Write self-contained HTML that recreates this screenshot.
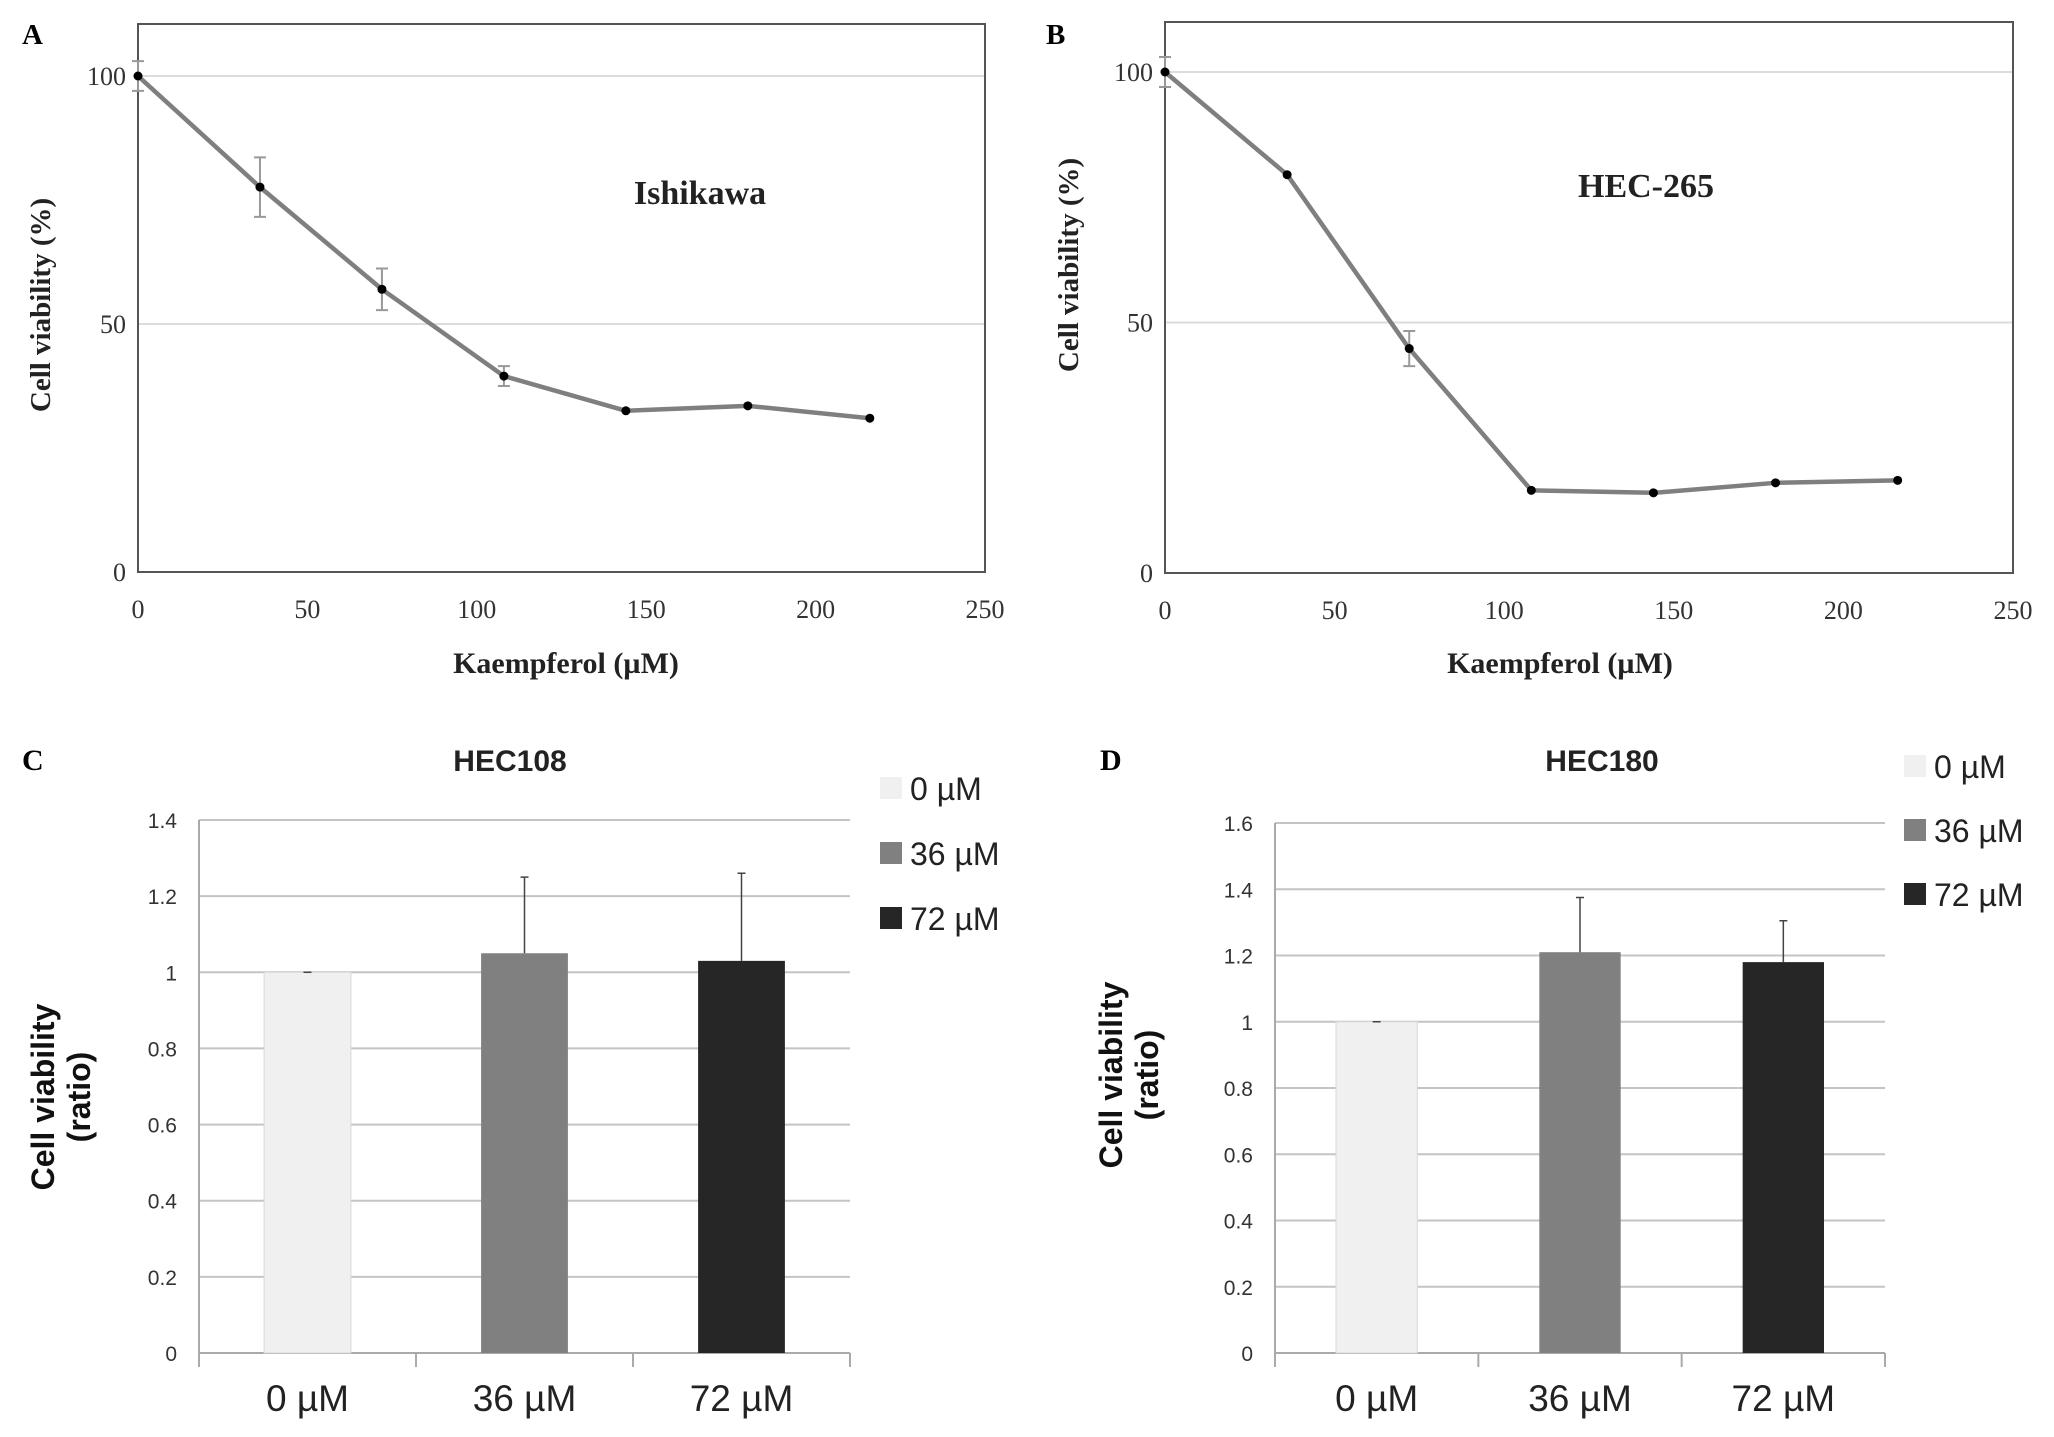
<!DOCTYPE html>
<html><head><meta charset="utf-8"><style>
html,body{margin:0;padding:0;background:#fff;}
svg{display:block;}
</style></head><body>
<svg id="fig" width="2054" height="1437" viewBox="0 0 2054 1437" xmlns="http://www.w3.org/2000/svg"></svg>
<script>
// Panel A data (Ishikawa)
const doseA = [0, 36, 72, 108, 144, 180, 216];
const viabA = [100, 77.6, 57, 39.5, 32.5, 33.5, 31];
const errA = [3, 6, 4.2, 2, 0, 0, 0];
// Panel B data (HEC-265)
const doseB = [0, 36, 72, 108, 144, 180, 216];
const viabB = [100, 79.5, 44.8, 16.5, 16, 18, 18.5];
const errB = [3, 0, 3.5, 0, 0, 0, 0];
const xTicks = [0, 50, 100, 150, 200, 250];
const yTicksLine = [0, 50, 100];
// Panel C data (HEC108)
const catsC = ["0 µM", "36 µM", "72 µM"];
const valC = [1, 1.05, 1.03];
const errC = [0, 0.2, 0.23];
const yTicksC = [0, 0.2, 0.4, 0.6, 0.8, 1, 1.2, 1.4];
// Panel D data (HEC180)
const catsD = ["0 µM", "36 µM", "72 µM"];
const valD = [1, 1.21, 1.18];
const errD = [0, 0.165, 0.125];
const yTicksD = [0, 0.2, 0.4, 0.6, 0.8, 1, 1.2, 1.4, 1.6];
const barColors = ["#f0f0f0", "#808080", "#262626"];
const legendLabels = ["0 µM", "36 µM", "72 µM"];

const svg = document.getElementById('fig');
const NS = 'http://www.w3.org/2000/svg';
function mk(tag, attrs, parent, text) {
  const e = document.createElementNS(NS, tag);
  for (const k in attrs) e.setAttribute(k, attrs[k]);
  if (text !== undefined) e.textContent = text;
  (parent || svg).appendChild(e);
  return e;
}
const SERIF = '"Liberation Serif", serif';
const SANS = '"Liberation Sans", sans-serif';

function linePanel(o) {
  const g = mk('g', {});
  
  
  const xs = v => o.L + (v - 0) / 250 * (o.R - o.L);
  const ys = v => o.y0 - v / 100 * (o.y0 - o.y100);
  yTicksLine.forEach(t => {
    if (t > 0) {
      const gl = mk('line', {x1: o.L, x2: o.R, y1: ys(t), y2: ys(t), stroke: '#dcdcdc', 'stroke-width': 2}, g);
      
      
    }
    const tl = mk('text', {x: o.L - 12, y: ys(t) + 9, 'text-anchor': 'end', 'font-family': SERIF, 'font-size': 26, fill: '#333'}, g, String(t));
    
    
  });
  const box = mk('rect', {x: o.L, y: o.T, width: o.R - o.L, height: o.y0 - o.T, fill: 'none', stroke: '#555', 'stroke-width': 2}, g);
  
  
  xTicks.forEach(t => {
    const tl = mk('text', {x: xs(t), y: o.y0 + 46, 'text-anchor': 'middle', 'font-family': SERIF, 'font-size': 26, fill: '#333'}, g, String(t));
    
    
  });
  const pts = o.x.map((d, i) => xs(d) + ',' + ys(o.y[i])).join(' ');
  const pl = mk('polyline', {points: pts, fill: 'none', stroke: '#7f7f7f', 'stroke-width': 4.5, 'stroke-linejoin': 'round'}, g);
  
  
  o.x.forEach((d, i) => {
    const cx = xs(d), cy = ys(o.y[i]);
    if (o.e[i] > 0) {
      const a = ys(o.y[i] + o.e[i]), b = ys(o.y[i] - o.e[i]);
      const eb = mk('path', {d: `M${cx},${a}V${b}M${cx-6},${a}H${cx+6}M${cx-6},${b}H${cx+6}`, stroke: '#999', 'stroke-width': 2, fill: 'none'}, g);
      
      
    }
    const c = mk('circle', {cx: cx, cy: cy, r: 4.5, fill: '#000'}, g);
    
    
  });
  const pL = mk('text', {x: o.lx, y: 44, 'font-family': SERIF, 'font-size': 29, 'font-weight': 'bold'}, g, o.letter);
  
  
  const cl = mk('text', {x: o.cx, y: o.cy, 'text-anchor': 'middle', 'font-family': SERIF, 'font-size': 34, 'font-weight': 'bold', fill: '#222'}, g, o.cell);
  
  
  const xt = mk('text', {x: o.xtx, y: 673, 'text-anchor': 'middle', 'font-family': SERIF, 'font-size': 30, 'font-weight': 'bold', fill: '#222'}, g, 'Kaempferol (µM)');
  
  
  const yt = mk('text', {x: 0, y: 0, transform: `translate(${o.ytx},${o.yty}) rotate(-90)`, 'text-anchor': 'middle', 'font-family': SERIF, 'font-size': 29, 'font-weight': 'bold', fill: '#222'}, g, 'Cell viability (%)');
  
  
}

linePanel({name: 'panel-a-ishikawa', L: 138, R: 985, T: 24, y0: 572, y100: 76, x: doseA, y: viabA, e: errA, letter: 'A', lx: 22, cell: 'Ishikawa', cx: 700, cy: 204, xtx: 566, ytx: 50, yty: 305});
linePanel({name: 'panel-b-hec265', L: 1165, R: 2013, T: 22, y0: 573, y100: 72, x: doseB, y: viabB, e: errB, letter: 'B', lx: 1046, cell: 'HEC-265', cx: 1646, cy: 197, xtx: 1560, ytx: 1078, yty: 265});

function barPanel(o) {
  const g = mk('g', {});
  
  
  const ys = v => o.y0 - v / o.max * (o.y0 - o.yTop);
  const cw = (o.R - o.L) / o.cats.length;
  o.ticks.forEach(t => {
    const gl = mk('line', {x1: o.L, x2: o.R, y1: ys(t), y2: ys(t), stroke: t === 0 ? '#aaa' : '#c4c4c4', 'stroke-width': 2}, g);
    
    
    const tl = mk('text', {x: o.L - 22, y: ys(t) + 8, 'text-anchor': 'end', 'font-family': SANS, 'font-size': 21, fill: '#333'}, g, String(t));
    
    
  });
  const ax = mk('line', {x1: o.L, x2: o.L, y1: o.yTop, y2: o.y0 + 14, stroke: '#aaa', 'stroke-width': 2}, g);
  
  
  o.cats.forEach((c, i) => {
    const tk = mk('line', {x1: o.L + cw * (i + 1), x2: o.L + cw * (i + 1), y1: o.y0, y2: o.y0 + 14, stroke: '#aaa', 'stroke-width': 2}, g);
    
    
    const cx = o.L + cw * (i + 0.5), bw = cw * 0.4;
    const b = mk('rect', {x: cx - bw / 2, y: ys(o.v[i]), width: bw, height: o.y0 - ys(o.v[i]), fill: barColors[i], stroke: i === 0 ? '#d8d8d8' : 'none', 'stroke-width': 1}, g);
    
    
    const top = ys(o.v[i] + o.e[i]);
    const eb = mk('path', {d: `M${cx},${ys(o.v[i])}V${top}M${cx-4},${top}H${cx+4}`, stroke: '#444', 'stroke-width': 1.5, fill: 'none'}, g);
    
    
    const cl = mk('text', {x: cx, y: o.y0 + 58, 'text-anchor': 'middle', 'font-family': SANS, 'font-size': 37, fill: '#222'}, g, c);
    
    
  });
  const pL = mk('text', {x: o.lx, y: 770, 'font-family': SERIF, 'font-size': 30, 'font-weight': 'bold'}, g, o.letter);
  
  
  const ti = mk('text', {x: o.tx, y: 771, 'text-anchor': 'middle', 'font-family': SANS, 'font-size': 30, 'font-weight': 'bold', fill: '#222'}, g, o.title);
  
  
  const y1 = mk('text', {x: 0, y: 0, transform: `translate(${o.ytx},${o.yty}) rotate(-90)`, 'text-anchor': 'middle', 'font-family': SANS, 'font-size': 32, 'font-weight': 'bold', fill: '#111'}, g, 'Cell viability');
  
  
  const y2 = mk('text', {x: 0, y: 0, transform: `translate(${o.ytx + 36},${o.yty}) rotate(-90)`, 'text-anchor': 'middle', 'font-family': SANS, 'font-size': 32, 'font-weight': 'bold', fill: '#111'}, g, '(ratio)');
  
  
  legendLabels.forEach((l, i) => {
    const yy = o.legY + i * o.legStep;
    const sw = mk('rect', {x: o.legX, y: yy - 11, width: 22, height: 22, fill: barColors[i]}, g);
    
    
    const lt = mk('text', {x: o.legX + 30, y: yy + 12, 'font-family': SANS, 'font-size': 32, fill: '#222'}, g, l);
    
    
  });
}

barPanel({name: 'panel-c-hec108', L: 199, R: 850, y0: 1353, yTop: 820, max: 1.4, ticks: yTicksC, cats: catsC, v: valC, e: errC, letter: 'C', lx: 22, title: 'HEC108', tx: 510, ytx: 54, yty: 1097, legX: 880, legY: 788, legStep: 65});
barPanel({name: 'panel-d-hec180', L: 1275, R: 1885, y0: 1353, yTop: 823, max: 1.6, ticks: yTicksD, cats: catsD, v: valD, e: errD, letter: 'D', lx: 1100, title: 'HEC180', tx: 1602, ytx: 1122, yty: 1075, legX: 1904, legY: 766, legStep: 64});
</script>
</body></html>
